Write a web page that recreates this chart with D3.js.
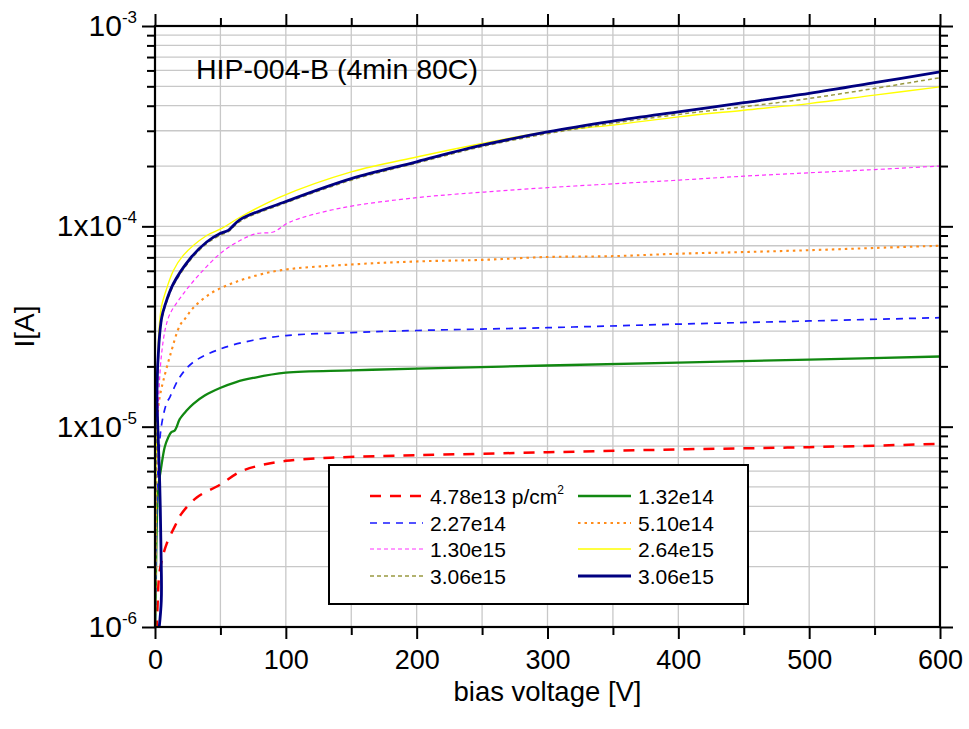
<!DOCTYPE html>
<html>
<head>
<meta charset="utf-8">
<title>HIP-004-B IV</title>
<script src="https://cdn.jsdelivr.net/npm/d3@7"></script>
<style>
  body { margin:0; background:#fff; }
  svg { display:block; font-family:'Liberation Sans', Arial, sans-serif; }
</style>
</head>
<body>
<div id="chart"></div>
<script>
(function () {

  // bias voltage [V] / current [A]
  var v_478e13 = [0, 1, 2, 3, 4.8, 8.9, 16.6, 20, 31.9, 50, 65, 80, 100, 134, 200, 300, 400, 500, 600]
    , i_478e13 = [6e-7, 9e-7, 1.3e-6, 1.76e-6, 2.1e-6, 2.6e-6, 3.32e-6, 3.66e-6, 4.43e-6, 5.15e-6, 5.95e-6, 6.4e-6, 6.75e-6, 7.0e-6, 7.2e-6, 7.45e-6, 7.7e-6, 7.9e-6, 8.2e-6]

    , v_132e14 = [0, 0.8, 1.5, 2.5, 4.3, 7.4, 10, 12.5, 15, 16.6, 18.9, 24, 29.3, 38, 49.7, 62, 75, 100, 150, 200, 300, 400, 500, 600]
    , i_132e14 = [8e-7, 2e-6, 3.5e-6, 5.0e-6, 6.0e-6, 7.9e-6, 8.8e-6, 9.4e-6, 9.55e-6, 1.0e-5, 1.09e-5, 1.2e-5, 1.30e-5, 1.43e-5, 1.56e-5, 1.67e-5, 1.75e-5, 1.86e-5, 1.91e-5, 1.95e-5, 2.02e-5, 2.09e-5, 2.16e-5, 2.24e-5]

    , v_227e14 = [0, 0.8, 1.5, 2.5, 4.8, 8.7, 11.5, 19, 29.3, 49.7, 75, 100, 150, 200, 300, 400, 500, 600]
    , i_227e14 = [8e-7, 2.5e-6, 4.5e-6, 6.5e-6, 1.0e-5, 1.3e-5, 1.41e-5, 1.77e-5, 2.1e-5, 2.44e-5, 2.7e-5, 2.85e-5, 2.95e-5, 3.02e-5, 3.12e-5, 3.25e-5, 3.37e-5, 3.5e-5]

    , v_510e14 = [0, 0.8, 1.5, 2.5, 4, 6.4, 11.5, 19, 23, 29.3, 42, 55, 70, 95.5, 150, 200, 250, 300, 350, 400, 450, 500, 550, 600]
    , i_510e14 = [8e-7, 4e-6, 8e-6, 1.25e-5, 1.45e-5, 1.7e-5, 2.26e-5, 3.2e-5, 3.46e-5, 3.92e-5, 4.6e-5, 5.07e-5, 5.5e-5, 6.03e-5, 6.45e-5, 6.68e-5, 6.8e-5, 7.03e-5, 7.1e-5, 7.3e-5, 7.44e-5, 7.6e-5, 7.8e-5, 8.0e-5]

    , v_130e15 = [0, 0.8, 1.5, 3, 5, 8, 11.5, 21.6, 34.4, 49.7, 65, 77.7, 90.4, 103, 141, 200, 250, 300, 350, 400, 450, 500, 550, 600]
    , i_130e15 = [8e-7, 4e-6, 8e-6, 1.5e-5, 2.3e-5, 3.1e-5, 3.66e-5, 4.6e-5, 5.8e-5, 7.3e-5, 8.5e-5, 9.2e-5, 9.37e-5, 1.05e-4, 1.23e-4, 1.39e-4, 1.48e-4, 1.56e-4, 1.63e-4, 1.70e-4, 1.78e-4, 1.85e-4, 1.92e-4, 2.0e-4]

    , v_264e15 = [0, 0.8, 1.5, 3, 5, 7.6, 14, 21.6, 39.5, 51, 65, 95.5, 150, 200, 250, 300, 350, 400, 450, 500, 550, 600]
    , i_264e15 = [8e-7, 6e-6, 1.5e-5, 3e-5, 4e-5, 4.6e-5, 6.0e-5, 7.16e-5, 9.0e-5, 9.76e-5, 1.11e-4, 1.40e-4, 1.87e-4, 2.22e-4, 2.59e-4, 2.97e-4, 3.2e-4, 3.52e-4, 3.8e-4, 4.1e-4, 4.52e-4, 4.97e-4]

    , v_306e15a = [0, 0.8, 1.5, 3, 5, 7.6, 14, 26.8, 39.5, 49.7, 56, 65, 100, 150, 200, 250, 300, 350, 400, 450, 500, 550, 600]
    , i_306e15a = [8e-7, 4e-6, 1.2e-5, 2.5e-5, 3.4e-5, 3.95e-5, 5.05e-5, 6.75e-5, 8.2e-5, 9.0e-5, 9.4e-5, 1.06e-4, 1.31e-4, 1.70e-4, 2.07e-4, 2.50e-4, 2.90e-4, 3.27e-4, 3.62e-4, 3.95e-4, 4.35e-4, 4.88e-4, 5.52e-4]

    , v_306e15b = [2.5, 4.8, 4.6, 3.6, 1.9, 1.5, 3, 5.1, 7.6, 14, 26.8, 39.5, 49.7, 56, 65, 100, 150, 200, 250, 300, 350, 400, 450, 500, 550, 600]
    , i_306e15b = [9e-7, 1.35e-6, 2.4e-6, 5.2e-6, 1.1e-5, 1.5e-5, 2.6e-5, 3.5e-5, 4.03e-5, 5.17e-5, 6.9e-5, 8.35e-5, 9.2e-5, 9.55e-5, 1.08e-4, 1.33e-4, 1.73e-4, 2.10e-4, 2.54e-4, 2.96e-4, 3.35e-4, 3.73e-4, 4.14e-4, 4.61e-4, 5.21e-4, 5.91e-4]

    , xTicks = [0, 100, 200, 300, 400, 500, 600]
    , yTicks = [1e-6, 1e-5, 1e-4, 1e-3]
    , yTickBase = ['10', '1x10', '1x10', '10']
    , yTickExp = ['-6', '-5', '-4', '-3']
  ;

  var width = 969
    , height = 729
    , left = 155, right = 940, top = 26, bottom = 627
    , font = "'Liberation Sans', Arial, sans-serif"
  ;

  // draw order: last one on top
  var series = [
      {v: v_478e13, i: i_478e13, label: '4.78e13 p/cm', sup: '2', color: '#ff0000', w: 2.5, dash: '11,9', col: 0, row: 0}
    , {v: v_132e14, i: i_132e14, label: '1.32e14', color: '#118811', w: 2.3, dash: null, col: 1, row: 0}
    , {v: v_227e14, i: i_227e14, label: '2.27e14', color: '#1a1aff', w: 1.7, dash: '7,6', col: 0, row: 1}
    , {v: v_510e14, i: i_510e14, label: '5.10e14', color: '#ff8c1a', w: 2.1, dash: '2.5,4', col: 1, row: 1}
    , {v: v_130e15, i: i_130e15, label: '1.30e15', color: '#ff33ff', w: 1.2, dash: '4,3', col: 0, row: 2}
    , {v: v_264e15, i: i_264e15, label: '2.64e15', color: '#ffff00', w: 1.4, dash: null, col: 1, row: 2}
    , {v: v_306e15a, i: i_306e15a, label: '3.06e15', color: '#999940', w: 1.5, dash: '4,3', col: 0, row: 3}
    , {v: v_306e15b, i: i_306e15b, label: '3.06e15', color: '#000080', w: 2.8, dash: null, col: 1, row: 3}
  ];

  var x = d3.scaleLinear().domain([0, 600]).range([left, right])
    , y = d3.scaleLog().domain([1e-6, 1e-3]).range([bottom, top])
  ;

  var svg = d3.select('#chart')
    .append('svg')
      .attr('width', width)
      .attr('height', height)
  ;

  svg.append('clipPath')
      .attr('id', 'plotclip')
    .append('rect')
      .attr('x', left).attr('y', top)
      .attr('width', right - left).attr('height', bottom - top)
  ;

  // grid: every 50 V, every log minor
  var xGrid = d3.range(50, 600, 50)
    , yMinor = []
  ;
  [1e-6, 1e-5, 1e-4].forEach(function (d) {
    for (var k = 1; k <= 9; k++) { if (k > 1 || d > 1e-6) yMinor.push(d * k); }
  });

  var grid = svg.append('g').attr('stroke', '#c8c8c8').attr('stroke-width', 1.3);
  grid.selectAll('line.gx')
    .data(xGrid).enter().append('line')
      .attr('x1', function (d) { return x(d); }).attr('x2', function (d) { return x(d); })
      .attr('y1', top).attr('y2', bottom)
  ;
  grid.selectAll('line.gy')
    .data(yMinor).enter().append('line')
      .attr('x1', left).attr('x2', right)
      .attr('y1', function (d) { return y(d); }).attr('y2', function (d) { return y(d); })
  ;

  // curves
  var line = d3.line()
    .x(function (d) { return x(d[0]); })
    .y(function (d) { return y(d[1]); })
    .curve(d3.curveCatmullRom.alpha(0.5))
  ;

  svg.append('g')
      .attr('clip-path', 'url(#plotclip)')
    .selectAll('path')
    .data(series).enter().append('path')
      .attr('d', function (s) { return line(d3.zip(s.v, s.i)); })
      .attr('fill', 'none')
      .attr('stroke', function (s) { return s.color; })
      .attr('stroke-width', function (s) { return s.w; })
      .attr('stroke-dasharray', function (s) { return s.dash; })
  ;

  // axes
  var minorY = yMinor.filter(function (d) { return yTicks.indexOf(d) < 0; })
    , minorX = d3.range(50, 600, 100)
  ;

  function styleAxis(g) {
    g.select('.domain').remove();
    g.selectAll('line').attr('stroke', '#000').attr('stroke-width', 2);
    g.selectAll('text').attr('font-family', font).attr('fill', '#000');
  }

  svg.append('g')
      .attr('transform', 'translate(0,' + bottom + ')')
      .call(d3.axisBottom(x).tickValues(xTicks).tickSize(12).tickPadding(11).tickFormat(d3.format('d')))
      .call(styleAxis)
      .selectAll('text').attr('font-size', 27)
  ;
  svg.append('g')
      .attr('transform', 'translate(0,' + bottom + ')')
      .call(d3.axisBottom(x).tickValues(minorX).tickSize(8).tickFormat(''))
      .call(styleAxis)
  ;
  svg.append('g')
      .attr('transform', 'translate(0,' + top + ')')
      .call(d3.axisTop(x).tickValues(xTicks).tickSize(12).tickFormat(''))
      .call(styleAxis)
  ;
  svg.append('g')
      .attr('transform', 'translate(0,' + top + ')')
      .call(d3.axisTop(x).tickValues(minorX).tickSize(8).tickFormat(''))
      .call(styleAxis)
  ;

  var yAxis = svg.append('g')
      .attr('transform', 'translate(' + left + ',0)')
      .call(d3.axisLeft(y).tickValues(yTicks).tickSize(13).tickPadding(5).tickFormat(''))
      .call(styleAxis)
  ;
  yAxis.selectAll('.tick text')
      .attr('font-size', 30)
      .each(function (d, k) {
        var t = d3.select(this);
        t.append('tspan').text(yTickBase[k]);
        t.append('tspan').attr('dy', -13).attr('font-size', 17).text(yTickExp[k]);
      })
  ;
  svg.append('g')
      .attr('transform', 'translate(' + left + ',0)')
      .call(d3.axisLeft(y).tickValues(minorY).tickSize(8).tickFormat(''))
      .call(styleAxis)
  ;
  svg.append('g')
      .attr('transform', 'translate(' + right + ',0)')
      .call(d3.axisRight(y).tickValues(yTicks).tickSize(13).tickFormat(''))
      .call(styleAxis)
  ;
  svg.append('g')
      .attr('transform', 'translate(' + right + ',0)')
      .call(d3.axisRight(y).tickValues(minorY).tickSize(8).tickFormat(''))
      .call(styleAxis)
  ;

  // frame
  svg.append('rect')
      .attr('x', left).attr('y', top)
      .attr('width', right - left).attr('height', bottom - top)
      .attr('fill', 'none').attr('stroke', '#000').attr('stroke-width', 2.2)
  ;

  // titles
  svg.append('text')
      .attr('x', 196).attr('y', 79)
      .attr('font-family', font).attr('font-size', 28.5)
      .text('HIP-004-B (4min 80C)')
  ;
  svg.append('text')
      .attr('x', (left + right) / 2).attr('y', 701)
      .attr('text-anchor', 'middle')
      .attr('font-family', font).attr('font-size', 27.5)
      .text('bias voltage [V]')
  ;
  svg.append('text')
      .attr('transform', 'translate(34,' + ((top + bottom) / 2) + ') rotate(-90)')
      .attr('text-anchor', 'middle')
      .attr('font-family', font).attr('font-size', 28)
      .text('I[A]')
  ;

  // legend
  var lg = svg.append('g');
  lg.append('rect')
      .attr('x', 329).attr('y', 465)
      .attr('width', 419).attr('height', 139)
      .attr('fill', '#fff').attr('stroke', '#000').attr('stroke-width', 2)
  ;
  var colX = [370, 578]
    , rowY = [496, 523, 549, 576]
  ;
  var item = lg.selectAll('g.item')
    .data(series).enter().append('g')
      .attr('transform', function (s) { return 'translate(' + colX[s.col] + ',' + rowY[s.row] + ')'; })
  ;
  item.append('line')
      .attr('x1', 0).attr('x2', 53)
      .attr('stroke', function (s) { return s.color; })
      .attr('stroke-width', function (s) { return s.w; })
      .attr('stroke-dasharray', function (s) { return s.dash; })
  ;
  var lt = item.append('text')
      .attr('x', 60).attr('y', 7.5)
      .attr('font-family', font).attr('font-size', 21)
  ;
  lt.append('tspan').text(function (s) { return s.label; });
  lt.filter(function (s) { return s.sup; })
    .append('tspan').attr('dy', -10).attr('font-size', 12).text(function (s) { return s.sup; });

}).call(this);
</script>
</body>
</html>
